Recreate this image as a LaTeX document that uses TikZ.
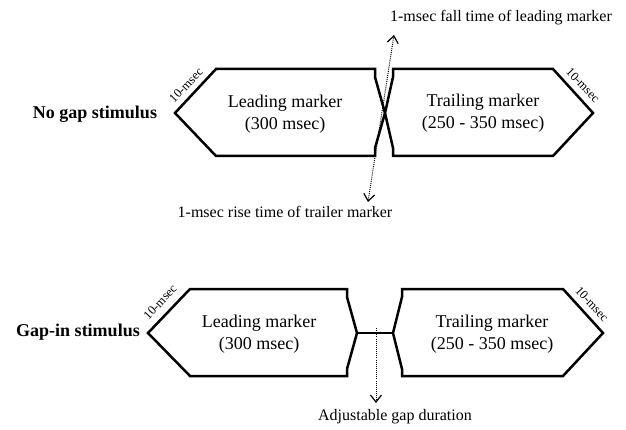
\documentclass[tikz,border=0pt]{standalone}
\usepackage{fontspec}
\setmainfont{Liberation Serif}
\usetikzlibrary{arrows.meta}
\begin{document}
\begin{tikzpicture}[x=1pt,y=-1pt,
  envelope/.style={line width=2.5pt, line join=miter, miter limit=4},
  lbl/.style={font=\fontsize{18}{22}\selectfont, align=center, inner sep=0pt},
  ttl/.style={font=\fontsize{18}{22}\selectfont\bfseries, inner sep=0pt},
  note/.style={font=\fontsize{16}{19}\selectfont, inner sep=0pt},
  ramp/.style={font=\fontsize{12.5}{14}\selectfont, inner sep=0pt},
  pointer/.style={line width=1pt, dash pattern=on 1pt off 1.1pt,
    {Straight Barb[length=7pt,width=11pt,line width=1.2pt]}-{Straight Barb[length=7pt,width=11pt,line width=1.2pt]}},
  pointerone/.style={line width=1pt, dash pattern=on 1pt off 1.1pt,
    -{Straight Barb[length=7pt,width=11pt,line width=1.2pt]}}]
\useasboundingbox (0,0) rectangle (626,430);

% ---------- No gap stimulus ----------
\draw[envelope] (216,69) -- (375,69) -- (375,77) -- (385,113) -- (375,148)
  -- (375,156) -- (216,156) -- (175,113) -- cycle;
\draw[envelope] (393,69) -- (553,69) -- (593,113) -- (553,156) -- (393,156)
  -- (393,148) -- (385,113) -- (393,77) -- cycle;

\node[lbl] (lead1) at (285,114) {Leading marker\\(300 msec)};
\node[lbl] (trail1) at (483,113) {Trailing marker\\(250 - 350 msec)};
\node[ttl] (nogap) at (95,114) {No gap stimulus};
\node[ramp, rotate=46] (r1) at (186,85) {10-msec};
\node[ramp, rotate=-46] (r2) at (583,85) {10-msec};

\node[note] (fall) at (501,18) {1-msec fall time of leading marker};
\node[note] (rise) at (285,212) {1-msec rise time of trailer marker};
\coordinate (fallend) at (394,35);
\coordinate (riseend) at (368,202);
\draw[pointer] (riseend) -- (fallend);

% ---------- Gap-in stimulus ----------
\draw[envelope] (190,289) -- (347,289) -- (347,297) -- (357,333) -- (347,369)
  -- (347,376) -- (190,376) -- (148,333) -- cycle;
\draw[envelope] (402,289) -- (563,289) -- (603,333) -- (563,376) -- (402,376)
  -- (402,369) -- (393,333) -- (402,297) -- cycle;
\coordinate (gapl) at (357,333);
\coordinate (gapr) at (393,333);
\draw[line width=1.6pt] (gapl) -- (gapr);

\node[lbl] (lead2) at (259,334) {Leading marker\\(300 msec)};
\node[lbl] (trail2) at (492,334) {Trailing marker\\(250 - 350 msec)};
\node[ttl] (gapin) at (78,332) {Gap-in stimulus};
\node[ramp, rotate=47] (r3) at (160,302) {10-msec};
\node[ramp, rotate=-47] (r4) at (592,304) {10-msec};

\node[note] (adj) at (395,417) {Adjustable gap duration};
\coordinate (gapstart) at (376,328);
\coordinate (gapend) at (376,403);
\draw[pointerone] (gapstart) -- (gapend);
\end{tikzpicture}
\end{document}
